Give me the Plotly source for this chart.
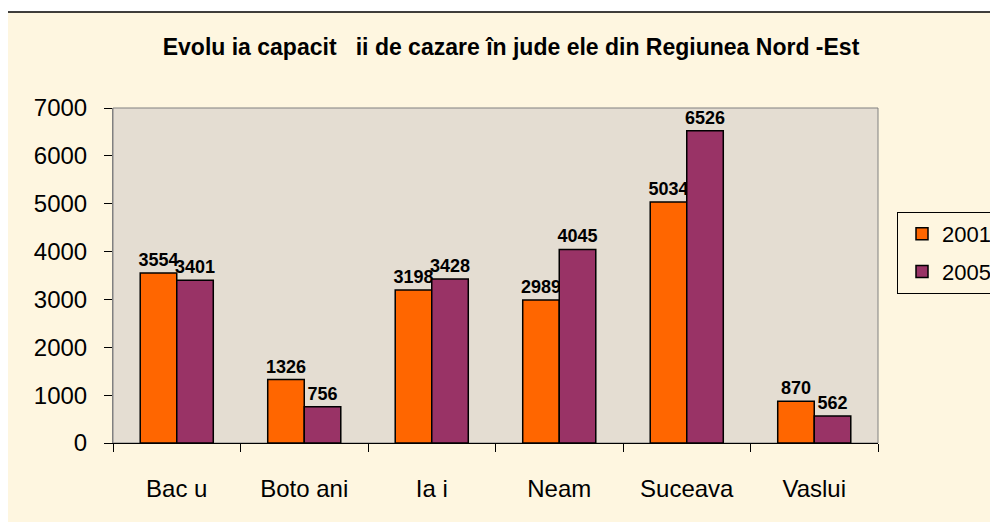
import plotly.graph_objects as go

categories = ["Bac u", "Boto ani", "Ia i", "Neam", "Suceava", "Vaslui"]
values_2001 = [3554, 1326, 3198, 2989, 5034, 870]
values_2005 = [3401, 756, 3428, 4045, 6526, 562]
series_names = ["2001", "2005"]
title_text = "Evolu ia capacit   ii de cazare în jude ele din Regiunea Nord -Est"

OFF = 8  # page body margin
W, H = 998 - OFF, 522 - OFF
L, R, T, B = 113 - OFF, 878 - OFF, 108 - OFF, 443 - OFF
pw, ph = R - L, B - T

def px_x(p):
    return (p - OFF - L) / pw

def px_y(p):
    return (B - (p - OFF)) / ph

FONT = "Liberation Sans, Arial, sans-serif"

fig = go.Figure()
fig.add_trace(go.Bar(
    x=categories, y=values_2001, name=series_names[0], legendgroup="a",
    marker=dict(color="#FF6600", line=dict(color="#000000", width=1.5)),
    text=values_2001, textposition="outside", constraintext="none",
    textfont=dict(family=FONT, size=18, color="#000000", weight="bold"),
    cliponaxis=False,
))
fig.add_trace(go.Bar(
    x=categories, y=values_2005, name=series_names[1], legendgroup="b",
    marker=dict(color="#993366", line=dict(color="#000000", width=1.5)),
    text=values_2005, textposition="outside", constraintext="none",
    textfont=dict(family=FONT, size=18, color="#000000", weight="bold"),
    cliponaxis=False,
))

fig.update_layout(
    width=W, height=H,
    margin=dict(l=L, r=W - R, t=T, b=H - B, pad=0, autoexpand=False),
    paper_bgcolor="#FFFFFF",
    plot_bgcolor="#E4DDD2",
    barmode="group", bargap=0.427, bargroupgap=0,
    font=dict(family=FONT, color="#000000"),
    title=dict(text="<b>" + title_text + "</b>", x=(511 - OFF) / W, xanchor="center",
               y=1 - (47 - OFF) / H, yanchor="middle",
               font=dict(family=FONT, size=23, color="#000000")),
    legend=dict(xref="container", yref="container",
                x=(897 - OFF) / W, y=1 - (212 - OFF) / H, xanchor="left", yanchor="top",
                bgcolor="#FEF6E0", bordercolor="#000000", borderwidth=1,
                font=dict(family=FONT, size=22, color="#000000"),
                tracegroupgap=6, traceorder="grouped",
                itemwidth=30, indentation=4),
    showlegend=True,
    shapes=[
        dict(type="rect", xref="paper", yref="paper",
             x0=px_x(7), x1=px_x(1010), y0=px_y(12), y1=px_y(540),
             fillcolor="#FEF6E0", line=dict(color="#000000", width=1.5), layer="below"),
        dict(type="rect", xref="paper", yref="paper",
             x0=0, x1=1, y0=0, y1=1,
             fillcolor="#E4DDD2", line=dict(color="#808080", width=1), layer="below"),
    ],
)

fig.update_yaxes(range=[0, 7000], dtick=1000, showgrid=False, zeroline=False,
                 ticks="outside", ticklen=8, tickcolor="#000000",
                 showline=True, linecolor="#808080", linewidth=1,
                 tickfont=dict(family=FONT, size=24, color="#000000"),
                 ticklabelstandoff=12)
fig.update_xaxes(showgrid=False, zeroline=False,
                 ticks="outside", ticklen=8, tickcolor="#000000", tickson="boundaries",
                 showline=True, linecolor="#000000", linewidth=1,
                 tickfont=dict(family=FONT, size=24, color="#000000"),
                 ticklabelstandoff=24)

fig.write_html("out.html")
